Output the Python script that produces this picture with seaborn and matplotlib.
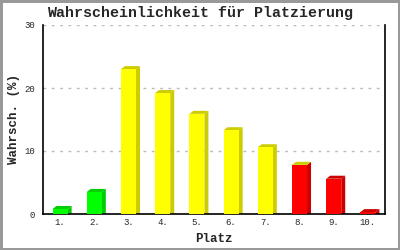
import matplotlib
matplotlib.use("Agg")
import matplotlib.pyplot as plt
from matplotlib.patches import Polygon
import seaborn as sns
import pandas as pd

places = ["1.", "2.", "3.", "4.", "5.", "6.", "7.", "8.", "9.", "10."]
probs = [0.8, 3.5, 23.0, 19.2, 15.9, 13.3, 10.6, 7.8, 5.6, 0.3]
face_colors = ["#00FF00", "#00FF00", "#FFFF00", "#FFFF00", "#FFFF00",
               "#FFFF00", "#FFFF00", "#FF0000", "#FF0000", "#FF0000"]
side_colors = ["#00CC00", "#00CC00", "#CCCC00", "#CCCC00", "#CCCC00",
               "#CCCC00", "#CCCC00", "#CC0000", "#CC0000", "#CC0000"]
top_colors = ["#00CC00", "#00CC00", "#CCCC00", "#CCCC00", "#CCCC00",
              "#CCCC00", "#CCCC00", "#CCCC00", "#CC0000", "#CC0000"]

sns.set_style("white")
plt.rcParams["font.family"] = ["Liberation Mono", "DejaVu Sans Mono"]

df = pd.DataFrame({"Platz": places, "Wert": probs})

fig = plt.figure(figsize=(4, 2.5), dpi=100)
fig.patch.set_facecolor("white")
fig.patch.set_edgecolor("#999999")
fig.patch.set_linewidth(2.5)
ax = fig.add_axes([43 / 400, 36 / 250, 342 / 400, 189 / 250])

sns.barplot(data=df, x="Platz", y="Wert", hue="Platz",
            palette=dict(zip(places, face_colors)), legend=False,
            width=0.44, ax=ax, saturation=1, linewidth=0, zorder=3)

ax.set_xlim(-0.5, 9.5)
ax.set_ylim(0, 30)

# 3D depth offsets in data units (4 px right, 3 px up)
dx = 4 * 10 / 342
dy = 3 * 30 / 189
for p, sc, tc in zip(ax.patches, side_colors, top_colors):
    x0 = p.get_x()
    x1 = x0 + p.get_width()
    y1 = p.get_height()
    ax.add_patch(Polygon([(x1, 0), (x1 + dx, 0), (x1 + dx, y1 + dy), (x1, y1)],
                         closed=True, facecolor=sc, edgecolor="none", zorder=2.5))
    ax.add_patch(Polygon([(x0, y1), (x1, y1), (x1 + dx, y1 + dy), (x0 + dx, y1 + dy)],
                         closed=True, facecolor=tc, edgecolor="none", zorder=2.5))

ax.set_yticks([0, 10, 20, 30])
for yv in [10, 20, 30]:
    ax.axhline(yv, color="#BBBBBB", lw=1, ls=(0, (2, 4)), zorder=1)

for s in ["left", "bottom", "right"]:
    ax.spines[s].set_visible(True)
    ax.spines[s].set_color("black")
    ax.spines[s].set_linewidth(1.2)
ax.spines["top"].set_visible(False)

ax.tick_params(axis="y", direction="inout", length=6, width=1.2, labelsize=6.5, pad=3)
ax.tick_params(axis="x", length=0, labelsize=6.5, pad=3)

ax.set_xlabel("Platz", fontsize=9, fontweight="bold", labelpad=4)
ax.set_ylabel("Wahrsch. (%)", fontsize=9, fontweight="bold", labelpad=3)
fig.text(200 / 400, 1 - 13 / 250, "Wahrscheinlichkeit für Platzierung",
         ha="center", va="center", fontsize=10.8, fontweight="bold")

fig.savefig("out.png", dpi=100, facecolor=fig.get_facecolor(), edgecolor=fig.get_edgecolor())
